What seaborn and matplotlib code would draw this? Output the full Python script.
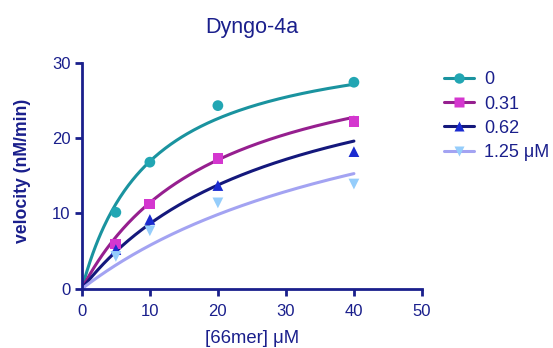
import numpy as np
import pandas as pd
import matplotlib
matplotlib.use('Agg')
import matplotlib.pyplot as plt
from matplotlib.lines import Line2D
import seaborn as sns

# substrate concentrations and measured velocities per Dyngo-4a concentration
substrate = [5, 10, 20, 40]
inhibitor = [0, 0.31, 0.62, 1.25]
labels = ['0', '0.31', '0.62', '1.25 μM']
v_0 = [10.15, 16.8, 24.3, 27.4]
v_031 = [5.95, 11.25, 17.25, 22.2]
v_062 = [5.2, 9.2, 13.7, 18.2]
v_125 = [4.3, 7.7, 11.4, 13.9]

line_cols = ['#1a939f', '#961f8f', '#14187c', '#a3a3f2']
mark_cols = ['#22a6b3', '#d437cf', '#1a2bd0', '#95cdfb']
markers = ['o', 's', '^', 'v']
navy = '#1a1f8c'

rows = []
for lab, inh, vals in zip(labels, inhibitor, [v_0, v_031, v_062, v_125]):
    for s, v in zip(substrate, vals):
        rows.append({'S': s, 'I': inh, 'v': v, 'grp': lab})
df = pd.DataFrame(rows)

# global competitive-inhibition fit (least squares, grid over Km/Ki)
S = df['S'].values
I = df['I'].values
y = df['v'].values
km_grid = np.linspace(2, 30, 561)[:, None, None]
ki_grid = np.linspace(0.05, 2, 391)[None, :, None]
f = S / (km_grid * (1 + I / ki_grid) + S)
V = (f * y).sum(-1) / (f * f).sum(-1)
sse = ((V[..., None] * f - y) ** 2).sum(-1)
a, b = np.unravel_index(np.argmin(sse), sse.shape)
Vmax, Km, Ki = V[a, b], km_grid[a, 0, 0], ki_grid[0, b, 0]

xs = np.linspace(0, 40, 200)
fit_rows = []
for lab, inh in zip(labels, inhibitor):
    for x in xs:
        fit_rows.append({'S': x, 'v': Vmax * x / (Km * (1 + inh / Ki) + x), 'grp': lab})
fit = pd.DataFrame(fit_rows)

sns.set_style('ticks')
plt.rcParams['font.family'] = ['Liberation Sans', 'DejaVu Sans']

fig = plt.figure(figsize=(5.53, 3.48), dpi=100)
ax = fig.add_axes([0.148, 0.170, 0.615, 0.650])

sns.lineplot(data=fit, x='S', y='v', hue='grp', palette=line_cols, lw=2.2,
             ax=ax, legend=False)
sns.scatterplot(data=df, x='S', y='v', hue='grp', style='grp', palette=mark_cols,
                markers=markers, s=60, edgecolor='none', ax=ax, legend=False, zorder=3)

ax.set_xlim(0, 50)
ax.set_ylim(0, 30)
ax.set_xticks([0, 10, 20, 30, 40, 50])
ax.set_yticks([0, 10, 20, 30])
sns.despine(ax=ax)
for sp in ['left', 'bottom']:
    ax.spines[sp].set_color(navy)
    ax.spines[sp].set_linewidth(2)
ax.tick_params(colors=navy, width=2, length=5, labelsize=12, pad=3)
ax.tick_params(axis='x', pad=6)
ax.set_xlabel('[66mer] μM', color=navy, fontsize=13.3)
ax.xaxis.set_label_coords(0.5, -0.183)
ax.set_ylabel('velocity (nM/min)', color=navy, fontsize=12.7, fontweight='bold')
ax.yaxis.set_label_coords(-0.15, 0.52)
fig.text(0.456, 0.92, 'Dyngo-4a', ha='center', va='center', color=navy, fontsize=15.5)

handles = [Line2D([], [], color=lc, lw=2.2, marker=m, markerfacecolor=mc,
                  markeredgecolor='none', markersize=7.5)
           for lc, mc, m in zip(line_cols, mark_cols, markers)]
leg = fig.legend(handles, labels, loc='upper left', bbox_to_anchor=(0.803, 0.795),
                 frameon=False, fontsize=13, handlelength=1.65, labelspacing=0.4,
                 handletextpad=0.55, borderpad=0, borderaxespad=0)
for t in leg.get_texts():
    t.set_color(navy)

fig.savefig('out.png', dpi=100)
